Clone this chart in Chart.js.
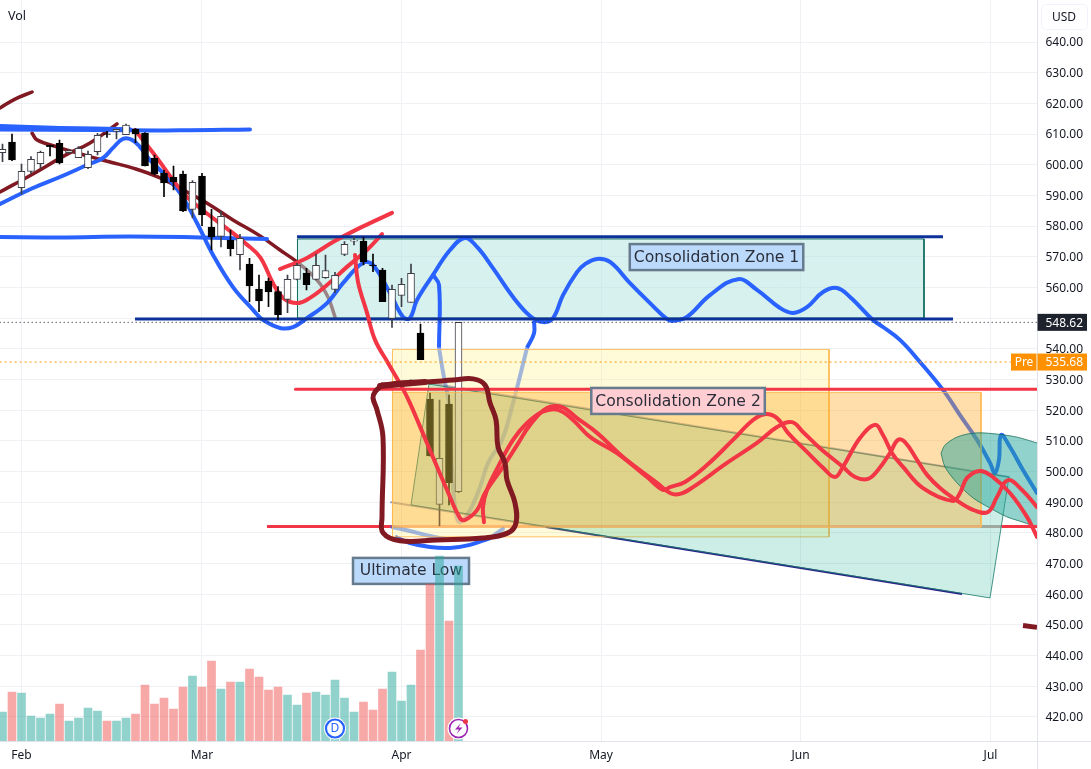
<!DOCTYPE html>
<html>
<head>
<meta charset="utf-8">
<title>SPY daily</title>
<script src="https://cdn.jsdelivr.net/npm/chart.js@4/dist/chart.umd.js"></script>
<style>
  html, body { margin: 0; padding: 0; background: #fff; }
  canvas { display: block; }
</style>
</head>
<body>
<canvas id="priceChart" width="1091" height="769"></canvas>
<script>
// Daily candles, one entry per session. x axis is the session number.
const candleOpen = [603.92,607.4,592.5,597.84,600.34,606.31,606.97,603.92,602.29,599.03,604.25,610.1,610.88,609.79,611.53,610.23,602.18,597.3,595.88,596.97,585.45,596.32,579.69,576.65,575.46,570.68,567.63,559.49,562.09,558.62,556.12,562.64,564.7,562.64,563.18,559.38,570.79,575.1,575.14,567.3,565.68,549.93,557.43,555.14,545.15,523.64,489.3,522.0,493.43];
const candleClose = [605.01,601.53,597.84,601.75,604.03,605.88,600.56,604.58,605.34,603.38,609.57,609.9,611.53,612.94,610.01,599.58,596.97,594.04,594.36,584.91,594.25,583.61,576.43,583.17,572.63,576.0,560.46,555.57,558.51,551.01,562.64,567.2,560.9,567.2,565.47,563.94,574.05,575.4,568.4,567.1,555.36,559.38,561.01,564.6,536.46,505.06,504.3,496.36,548.62];
const candleHigh = [606.75,610.01,600.23,602.62,604.47,606.42,608.05,605.01,605.88,604.47,610.23,610.88,611.53,613.27,611.75,610.44,603.16,598.27,599.58,597.95,594.8,597.19,585.45,584.8,578.72,577.3,569.48,564.05,563.07,560.25,564.05,567.86,566.23,570.9,570.57,564.92,574.92,576.55,576.33,570.9,566.23,560.79,562.97,567.64,548.08,525.7,523.31,524.94,548.62];
const candleLow = [600.99,601.31,590.45,597.19,598.82,602.84,600.23,603.71,602.29,598.71,603.16,608.92,608.38,609.79,607.18,599.58,596.64,589.58,591.76,584.69,582.63,580.13,572.2,573.18,570.24,565.68,555.36,552.1,553.73,549.38,551.78,562.42,559.16,562.42,562.97,558.3,570.36,573.83,567.31,565.14,555.36,546.99,553.73,555.14,536.46,505.06,482.24,489.08,493.1];

// Volume in millions of shares, and the side each bar is coloured by
const volumes = [42.3,71.5,70,36.5,33.6,39.4,54,29.2,33.6,48.2,43.8,29.2,29.2,33.6,39.4,81.8,54,62.8,46.7,78.8,94.9,78.8,116.8,75.9,86.1,86.1,105.1,93.4,74.5,78.8,67.2,52.6,70,71.5,67.2,89.1,62.8,42.3,56.9,45.3,75.9,100.7,58.4,81.8,132.9,229,270,175.2,255.5];
const volumeSide = ['u','d','u','u','u','u','d','u','u','u','u','d','u','u','d','d','d','d','d','d','u','d','d','u','d','u','d','d','d','d','u','u','d','u','u','u','u','u','d','d','d','u','u','u','d','d','u','d','u'];

const monthBars = [2, 21, 42, 63, 84, 104];
const monthLabels = ['Feb', 'Mar', 'Apr', 'May', 'Jun', 'Jul'];
const priceTicks = [420,430,440,450,460,470,480,490,500,510,520,530,540,550,560,570,580,590,600,610,620,630,640];

const lastClose = 548.62;
const prePrice = 535.68;

const noteLabels = ['Consolidation Zone 1', 'Consolidation Zone 2', 'Ultimate Low'];
const noteBars = [75.16, 71.11, 43.0];
const notePrices = [569.9, 523.0, 467.6];

// Drawings, [session, price]
const maroonTop = [[-0.26,618.5],[1.32,621.4],[3.11,623.7]];
const maroonRise = [[-0.26,591.1],[3.21,597.0],[6.68,603.2],[9.21,607.1],[12.05,613.3]];
const maroonFall = [[3.11,610.3],[3.63,608.1],[5.74,605.8],[8.89,602.9],[11.32,600.9],[13.74,598.9],[16.58,595.7],[19.42,591.1],[21.84,586.9],[24.26,582.0],[27.11,576.8],[29.21,572.2],[31.0,568.3],[33.11,562.4],[34.26,556.9],[35.0,550.4]];
const maroonStub = [[107.42,449.8],[108.89,449.2]];
const maroonLoop = [[39.95,528.2],[42.16,528.9],[44.68,529.2],[47.42,529.8],[49.53,530.2],[50.79,528.2],[51.32,522.3],[51.95,516.8],[52.16,508.0],[52.89,502.8],[53.11,497.2],[53.95,489.7],[54.05,483.2],[53.21,480.0],[50.58,478.3],[45.74,477.7],[41.84,477.4],[40.05,480.0],[39.95,485.2],[40.05,511.2],[39.42,520.1],[39.0,524.0],[39.21,525.9],[39.95,528.2]];
const maroonLoopTop = [[39.74,527.9],[44.47,529.2]];

const blueHighA = [[-0.26,612.6],[6.05,612.0],[13.42,611.6]];
const blueHighB = [[-0.26,611.5],[10.26,611.3],[18.68,611.2],[26.05,611.5]];
const blueMid = [[-0.26,576.4],[6.05,576.3],[13.42,576.6],[20.79,576.3],[27.84,575.8]];
const blueMain = [[-0.26,587.2],[3.21,592.4],[6.05,596.0],[8.89,599.9],[10.58,602.2],[11.63,605.5],[12.68,608.4],[13.63,608.1],[14.47,605.8],[15.53,601.5],[16.89,597.3],[18.68,590.8],[20.47,581.0],[22.16,570.6],[24.26,560.1],[26.37,552.7],[27.42,549.4],[29.21,546.8],[30.58,547.1],[32.05,550.0],[34.16,554.9],[35.84,561.4],[37.95,568.0],[39.0,567.3],[40.79,558.2],[42.16,550.4],[42.89,550.0],[43.63,555.9],[45.32,564.1],[47.11,572.2],[48.68,576.1],[49.95,573.2],[51.63,566.3],[53.74,556.9],[55.53,550.7],[56.89,548.7],[57.95,550.0],[59.0,557.5],[60.47,565.0],[61.32,567.6],[62.58,569.3],[63.95,568.3],[66.05,561.4],[68.16,554.9],[69.95,549.7],[70.58,549.1],[72.05,550.4],[74.47,557.5],[77.42,562.7],[79.42,559.2],[81.84,553.3],[83.21,551.7],[84.68,553.6],[86.37,558.5],[87.84,559.8],[89.21,556.9],[91.63,549.4],[92.68,547.1],[94.47,542.9],[96.58,535.7],[99.0,526.6],[100.79,518.4],[102.58,510.3],[103.95,502.8],[104.47,499.5],[104.89,503.8],[105.11,511.9],[106.05,508.0],[107.42,500.5],[108.89,493.0]];
const blueDropTop = [[45.32,564.1],[45.95,560.8],[45.95,540.3]];
const blueDropFadeA = [[45.95,540.3],[46.37,532.4],[46.79,525.9]];
const blueDropUnder = [[46.79,525.9],[47.11,519.1],[47.32,500.5],[47.74,485.8],[48.16,483.5],[49.21,487.4],[50.26,494.9],[51.11,502.8],[52.58,510.3],[53.74,522.3],[54.16,527.2]];
const blueDropFadeB = [[54.16,527.2],[55.21,540.3]];
const blueDropEnd = [[55.21,540.3],[55.95,545.1],[55.95,549.1]];
const blueBaseA = [[41.0,481.9],[42.89,480.6],[45.0,479.0],[46.58,478.0]];
const blueBaseB = [[41.32,478.7],[42.89,476.7],[45.0,475.4],[47.11,475.1],[49.21,476.1],[51.32,478.3]];
const blueBaseEnd = [[51.32,478.3],[52.68,481.3]];

const redFall = [[13.95,611.3],[16.26,602.2],[17.95,595.0],[19.42,589.5],[21.32,584.6],[24.26,577.7],[25.53,574.5],[27.11,569.9],[28.47,561.4],[29.53,556.6],[31.0,554.9],[32.37,556.6],[34.16,560.8],[36.26,566.7],[38.37,572.2],[39.95,577.4]];
const redShort = [[29.21,566.0],[32.05,569.6],[34.79,574.8],[37.63,579.4],[41.0,584.3]];
const redPathA = [[37.11,570.6],[37.42,561.8],[38.37,551.7],[39.21,542.9],[40.58,535.4],[42.05,527.5],[42.89,522.3],[44.68,509.3],[46.79,494.0],[48.16,484.8],[48.68,484.2],[49.95,487.4],[50.79,493.0],[52.68,501.5],[54.16,508.6],[55.53,515.2],[57.32,520.7],[58.89,521.0],[60.47,517.4],[62.58,512.6],[65.32,504.7],[68.89,496.3],[70.26,493.0],[71.32,492.7],[72.68,494.9],[76.26,502.8],[79.42,509.3],[81.53,514.5],[83.11,516.1],[84.26,512.9],[86.05,507.6],[88.47,501.5],[89.74,498.2],[91.11,497.6],[92.16,500.5],[93.42,506.0],[94.26,510.3],[95.0,509.6],[96.26,503.8],[97.32,498.9],[98.68,494.6],[100.05,491.4],[102.16,487.5],[103.74,486.8],[104.68,491.7],[105.84,497.2],[107.32,494.0],[108.89,488.4]];
const redPathB = [[50.68,483.5],[50.58,488.4],[51.0,494.0],[52.16,501.5],[53.74,510.3],[55.21,515.8],[56.79,519.4],[58.47,520.1],[60.05,516.8],[61.84,511.3],[64.68,506.0],[67.84,498.2],[69.53,494.0],[70.26,494.9],[71.84,496.6],[74.16,502.1],[76.89,510.3],[79.0,516.8],[80.26,518.7],[81.53,517.4],[82.68,512.6],[84.68,506.4],[86.37,501.2],[87.63,498.2],[88.47,501.5],[90.26,510.9],[91.84,515.2],[92.68,511.9],[93.63,506.0],[94.79,501.5],[96.89,494.6],[100.05,490.4],[100.79,493.0],[101.53,497.9],[102.89,500.2],[104.26,498.2],[106.05,493.0],[107.84,485.2],[108.89,478.7]];
const redUpperLevel = [[30.84,526.8],[108.95,526.8]];
const redLowerLeft = [[27.84,482.1],[41.05,482.1]];
const redLowerMid = [[41.05,482.1],[103.0,482.1]];
const redLowerGrey = [[103.0,482.1],[105.2,482.1]];
const redLowerRight = [[105.2,482.1],[108.95,482.1]];

const navyTop = [[31.0,576.5],[99.0,576.5]];
const navyBottom = [[13.95,549.7],[100.05,549.7]];
const trendUpper = [[42.89,529.8],[105.95,498.2]];
const trendLowerFaded = [[40.89,490.0],[57.2,481.9]];
const trendLower = [[57.2,481.9],[101.0,460.1]];

const zoneOne = [[31.05,575.8],[97.0,575.8],[97.0,550.0],[31.05,550.0],[31.05,575.8]];
const zoneYellow = [[41.05,539.8],[87.0,539.8],[87.0,478.7],[41.05,478.7],[41.05,539.8]];
const zoneOrange = [[41.05,525.8],[103.0,525.8],[103.0,481.9],[41.05,481.9],[41.05,525.8]];
const wedge = [[44.89,528.5],[105.95,498.2],[103.95,458.8],[43.0,489.1],[44.89,528.5]];
const ellipse = [[98.79,506.0],[99.21,508.6],[100.26,510.9],[101.53,512.2],[102.89,512.6],[104.68,512.2],[106.79,511.2],[108.89,509.3],[112.89,505.4],[117.63,497.2],[115.53,480.9],[111.32,480.3],[108.89,481.9],[107.42,483.5],[105.74,485.2],[103.95,488.1],[102.16,491.4],[100.47,496.3],[99.21,501.5],[98.79,506.0]];

const BLUE = '#2962ff';
const BLUE_FADED = 'rgba(41,98,255,0.55)';
const BLUE_UNDER = 'rgba(41,98,255,0.35)';
const RED = '#f23645';
const MAROON = '#801922';
const NAVY = '#0c3299';
const INK = '#131722';
const ZONE_EDGE = 'rgba(255,183,77,0.9)';
const UI_FONT = '"Noto Sans", sans-serif';
const NOTE_FONT = '"DejaVu Sans", sans-serif';

const sessions = candleOpen.map((_, i) => i);
const isUp = i => candleClose[i] >= candleOpen[i];

function stroke(points, color, width, order, extra) {
    return Object.assign({
        type: 'line',
        data: points.map(p => ({x: p[0], y: p[1]})),
        borderColor: color,
        borderWidth: width,
        borderCapStyle: 'round',
        borderJoinStyle: 'round',
        pointRadius: 0,
        tension: 0.4,
        fill: false,
        order: order,
        yAxisID: 'y'
    }, extra);
}

function area(points, fillColor, edgeColor, order, tension) {
    return stroke(points, edgeColor, 1, order, {
        backgroundColor: fillColor,
        fill: 'shape',
        tension: tension || 0,
        borderCapStyle: 'butt',
        borderJoinStyle: 'miter'
    });
}

const datasets = [
    {
        type: 'bar',
        data: sessions.map(i => ({x: i, y: volumes[i]})),
        backgroundColor: sessions.map(i => volumeSide[i] == 'u' ? 'rgba(38,166,154,0.5)' : 'rgba(239,83,80,0.5)'),
        barThickness: 8,
        yAxisID: 'yVol',
        order: 100
    },

    stroke(maroonTop, MAROON, 3.5, 95),
    stroke(maroonRise, MAROON, 3.5, 95),
    stroke(maroonFall, MAROON, 3.5, 95),
    stroke(redLowerLeft, RED, 3, 92, {tension: 0, borderCapStyle: 'butt'}),
    stroke(redLowerMid, 'rgba(242,54,69,0.35)', 3, 92, {tension: 0, borderCapStyle: 'butt'}),
    stroke(redLowerGrey, '#c9a9a6', 3, 92, {tension: 0, borderCapStyle: 'butt'}),

    area(zoneOne, 'rgba(179,228,222,0.53)', '#0f6b5c', 90),

    stroke(blueHighA, BLUE, 4, 85),
    stroke(blueHighB, BLUE, 4, 85),
    stroke(blueMid, BLUE, 4, 85),
    stroke(blueMain, BLUE, 4, 85),
    stroke(blueDropTop, BLUE, 4, 85, {borderCapStyle: 'butt'}),
    stroke(blueDropFadeA, BLUE_FADED, 4, 85, {borderCapStyle: 'butt'}),
    stroke(blueDropUnder, BLUE_UNDER, 4, 85, {borderCapStyle: 'butt'}),
    stroke(blueDropFadeB, BLUE_FADED, 4, 85, {borderCapStyle: 'butt'}),
    stroke(blueDropEnd, BLUE, 4, 85, {borderCapStyle: 'butt'}),
    stroke(blueBaseA, BLUE_FADED, 4, 85),
    stroke(blueBaseB, BLUE, 4, 85, {borderCapStyle: 'butt'}),
    stroke(blueBaseEnd, BLUE_FADED, 4, 85),
    stroke(redFall, RED, 4, 84),
    stroke(redShort, RED, 4, 84),
    stroke(navyTop, NAVY, 3, 83.5, {tension: 0, borderCapStyle: 'butt'}),
    stroke(navyBottom, NAVY, 3, 83.5, {tension: 0, borderCapStyle: 'butt'}),
    stroke(trendUpper, 'rgba(26,35,126,0.4)', 2, 83, {tension: 0}),
    stroke(trendLowerFaded, 'rgba(26,35,126,0.4)', 2, 83, {tension: 0}),
    stroke(trendLower, '#2b1f8a', 2, 83, {tension: 0, borderCapStyle: 'butt'}),

    area(zoneYellow, 'rgba(255,235,59,0.2)', ZONE_EDGE, 82),

    // wicks first, bodies on top
    {
        type: 'bar',
        data: sessions.map(i => ({x: i, y: [candleLow[i], candleHigh[i]]})),
        backgroundColor: sessions.map(i => isUp(i) ? '#3c3f47' : '#000'),
        barThickness: 1,
        yAxisID: 'y',
        order: 80
    },
    {
        type: 'bar',
        data: sessions.map(i => ({x: i, y: [candleOpen[i], candleClose[i]]})),
        backgroundColor: sessions.map(i => isUp(i) ? '#fff' : '#000'),
        borderColor: sessions.map(i => isUp(i) ? '#3c3f47' : '#000'),
        borderWidth: 1,
        borderSkipped: false,
        barThickness: 7,
        yAxisID: 'y',
        order: 79
    },

    area(wedge, 'rgba(0,168,136,0.2)', 'rgba(26,122,108,0.8)', 69),
    area(zoneOrange, 'rgba(255,167,38,0.38)', ZONE_EDGE, 67),
    area(ellipse, 'rgba(38,166,154,0.5)', 'rgba(20,110,90,0.75)', 66, 0.3),

    stroke(redPathA, RED, 4, 60),
    stroke(redPathB, RED, 4, 60),
    stroke(redUpperLevel, RED, 3, 60, {tension: 0}),
    stroke(redLowerRight, RED, 3, 60, {tension: 0, borderCapStyle: 'butt'}),
    stroke(maroonLoop, MAROON, 5, 55),
    stroke(maroonLoopTop, MAROON, 6, 54, {tension: 0}),
    stroke(maroonStub, MAROON, 5, 54, {tension: 0, borderCapStyle: 'butt'}),

    stroke([[-0.3, lastClose], [109, lastClose]], INK, 1, 50, {tension: 0, borderDash: [1, 3], borderCapStyle: 'butt'}),
    stroke([[-0.3, prePrice], [106.2, prePrice]], '#ff9800', 1, 50, {tension: 0, borderDash: [2, 3], borderCapStyle: 'butt'})
];

function drawNote(ctx, chart, index, fill) {
    const x = chart.scales.x.getPixelForValue(noteBars[index]);
    const y = chart.scales.y.getPixelForValue(notePrices[index]);
    ctx.font = '15.6px ' + NOTE_FONT;
    const w = Math.max(ctx.measureText(noteLabels[index]).width + 8, 116);
    ctx.fillStyle = fill;
    ctx.strokeStyle = '#667b8e';
    ctx.lineWidth = 2.5;
    ctx.fillRect(x - w / 2, y - 13, w, 26);
    ctx.strokeRect(x - w / 2, y - 13, w, 26);
    ctx.fillStyle = '#2a2e39';
    ctx.textAlign = 'center';
    ctx.textBaseline = 'middle';
    ctx.fillText(noteLabels[index], x, y + 0.5);
}

function priceTag(ctx, chart, price, bg, left, right) {
    const y = chart.scales.y.getPixelForValue(price);
    ctx.fillStyle = bg;
    ctx.fillRect(left, y - 8.5, right - left, 17);
    ctx.fillStyle = '#fff';
    ctx.font = '12px ' + UI_FONT;
    ctx.textAlign = 'left';
    ctx.textBaseline = 'middle';
    ctx.fillText(price.toFixed(2), 1045.5, y + 1);
}

const decorations = {
    id: 'decorations',
    // sits under the volume bars, which show through it
    beforeDatasetsDraw(chart) {
        const ctx = chart.ctx;
        ctx.save();
        drawNote(ctx, chart, 2, '#bbd9fb');
        ctx.restore();
    },
    afterDatasetsDraw(chart) {
        const ctx = chart.ctx;
        const xs = chart.scales.x;
        const cy = chart.chartArea.bottom - 12.5;
        ctx.save();
        drawNote(ctx, chart, 0, '#bbd9fb');
        drawNote(ctx, chart, 1, '#ffcdd2');

        // dividend marker
        let cx = xs.getPixelForValue(35);
        ctx.beginPath();
        ctx.arc(cx, cy, 11, 0, Math.PI * 2);
        ctx.fillStyle = '#fff';
        ctx.fill();
        ctx.beginPath();
        ctx.arc(cx, cy, 9, 0, Math.PI * 2);
        ctx.strokeStyle = BLUE;
        ctx.lineWidth = 2.2;
        ctx.stroke();
        ctx.fillStyle = BLUE;
        ctx.font = '12px ' + UI_FONT;
        ctx.textAlign = 'center';
        ctx.textBaseline = 'middle';
        ctx.fillText('D', cx, cy + 0.5);

        // news marker
        cx = xs.getPixelForValue(48);
        ctx.beginPath();
        ctx.arc(cx, cy, 11, 0, Math.PI * 2);
        ctx.fillStyle = '#fff';
        ctx.fill();
        ctx.beginPath();
        ctx.arc(cx, cy, 9, 0, Math.PI * 2);
        ctx.strokeStyle = '#9c27b0';
        ctx.lineWidth = 1.6;
        ctx.stroke();
        ctx.beginPath();
        ctx.moveTo(cx + 2.5, cy - 5.5);
        ctx.lineTo(cx - 3.5, cy + 1);
        ctx.lineTo(cx + 0.5, cy + 1);
        ctx.lineTo(cx - 2, cy + 5.5);
        ctx.lineTo(cx + 4, cy - 1);
        ctx.lineTo(cx, cy - 1);
        ctx.closePath();
        ctx.fillStyle = '#9c27b0';
        ctx.fill();
        ctx.beginPath();
        ctx.arc(cx + 7, cy - 7, 2.5, 0, Math.PI * 2);
        ctx.fillStyle = RED;
        ctx.fill();
        ctx.restore();
    },
    afterDraw(chart) {
        const ctx = chart.ctx;
        const {right, bottom} = chart.chartArea;
        ctx.save();

        // axis rules run on to the window edges
        ctx.fillStyle = '#e0e3eb';
        ctx.fillRect(0, bottom, 1091, 1);
        ctx.fillRect(right - 0.5, 0, 1, 769);

        priceTag(ctx, chart, lastClose, '#1e222d', right, 1087);
        priceTag(ctx, chart, prePrice, '#ff9100', right, 1087);

        const preY = chart.scales.y.getPixelForValue(prePrice);
        ctx.fillStyle = '#ff9100';
        ctx.fillRect(1011, preY - 8.5, right - 1011 - 1, 17);
        ctx.fillStyle = '#fff';
        ctx.font = '12px ' + UI_FONT;
        ctx.textAlign = 'center';
        ctx.fillText('Pre', 1024, preY + 1);

        // currency button
        ctx.beginPath();
        ctx.roundRect(1041.5, 4.5, 46, 25, 4);
        ctx.strokeStyle = '#f0f3fa';
        ctx.stroke();
        ctx.fillStyle = INK;
        ctx.font = '12px ' + UI_FONT;
        ctx.fillText('USD', 1064, 17.5);

        ctx.textAlign = 'left';
        ctx.font = '12.5px ' + UI_FONT;
        ctx.fillText('Vol', 8, 16.5);
        ctx.restore();
    }
};

new Chart(document.getElementById('priceChart'), {
    type: 'bar',
    data: {datasets: datasets},
    plugins: [decorations],
    options: {
        responsive: false,
        animation: false,
        events: [],
        layout: {padding: 0, autoPadding: false},
        elements: {line: {capBezierPoints: false}},
        datasets: {bar: {grouped: false}},
        plugins: {legend: {display: false}, tooltip: {enabled: false}},
        scales: {
            x: {
                type: 'linear',
                offset: false,
                min: -0.263,
                max: 108.947,
                afterBuildTicks: s => { s.ticks = monthBars.map(v => ({value: v})); },
                afterFit: s => { s.height = 28; s.paddingLeft = 0; s.paddingRight = 0; },
                grid: {color: '#f0f1f4', offset: false, drawTicks: false},
                border: {color: '#e0e3eb'},
                ticks: {
                    autoSkip: false,
                    maxRotation: 0,
                    padding: 7,
                    color: INK,
                    font: {family: UI_FONT, size: 12},
                    callback: v => monthLabels[monthBars.indexOf(v)]
                }
            },
            y: {
                position: 'right',
                min: 412.16,
                max: 653.69,
                afterBuildTicks: s => { s.ticks = priceTicks.map(v => ({value: v})); },
                // tick padding would otherwise push the plot area down from the top edge
                afterFit: s => { s.width = 53.5; s.paddingTop = 0; s.paddingBottom = 0; },
                grid: {color: '#f0f1f4', drawTicks: false},
                border: {color: '#e0e3eb'},
                ticks: {
                    autoSkip: false,
                    padding: 8,
                    labelOffset: 1,
                    color: INK,
                    font: {family: UI_FONT, size: 12},
                    callback: v => v.toFixed(2)
                }
            },
            yVol: {display: false, min: 0, max: 1082}
        }
    }
});
</script>
</body>
</html>
